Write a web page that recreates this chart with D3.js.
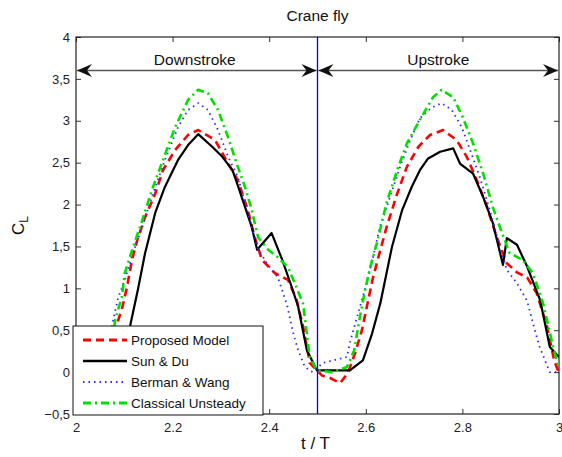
<!DOCTYPE html>
<html>
<head>
<meta charset="utf-8">
<script src="https://cdn.jsdelivr.net/npm/d3@7"></script>
<style>
  html, body { margin: 0; padding: 0; background: #fff; }
  svg { display: block; font-family: "Liberation Sans", Arial, sans-serif; }
</style>
</head>
<body>
<svg id="chart" width="562" height="457"></svg>
<script>
// Lift coefficient over one wingbeat (crane fly)
const xTicks = [2, 2.2, 2.4, 2.6, 2.8, 3];
const yTicks = [-0.5, 0, 0.5, 1, 1.5, 2, 2.5, 3, 3.5, 4];

const proposedT = [2.0, 2.02, 2.047, 2.063, 2.078, 2.085, 2.095, 2.105, 2.116, 2.127, 2.143, 2.164, 2.18, 2.205, 2.232, 2.253, 2.288, 2.315, 2.335, 2.356, 2.37, 2.385, 2.412, 2.439, 2.457, 2.47, 2.484, 2.509, 2.526, 2.547, 2.563, 2.578, 2.592, 2.605, 2.615, 2.626, 2.643, 2.665, 2.685, 2.709, 2.733, 2.76, 2.788, 2.809, 2.83, 2.851, 2.871, 2.892, 2.913, 2.934, 2.954, 2.975, 2.99, 3.0];
const proposedCL = [0.0, -0.05, -0.13, -0.01, 0.23, 0.58, 0.75, 1.0, 1.34, 1.58, 1.85, 2.13, 2.41, 2.65, 2.83, 2.89, 2.77, 2.49, 2.29, 1.93, 1.61, 1.34, 1.18, 1.10, 0.86, 0.55, 0.11, -0.04, -0.07, -0.13, -0.01, 0.23, 0.5, 0.86, 1.13, 1.37, 1.73, 2.13, 2.45, 2.69, 2.83, 2.89, 2.77, 2.57, 2.29, 1.97, 1.61, 1.30, 1.19, 1.13, 0.94, 0.55, 0.14, -0.01];

const sunDuT = [2.0, 2.05, 2.07, 2.094, 2.112, 2.128, 2.143, 2.164, 2.184, 2.211, 2.232, 2.253, 2.282, 2.303, 2.324, 2.336, 2.35, 2.364, 2.375, 2.405, 2.427, 2.447, 2.46, 2.478, 2.499, 2.567, 2.594, 2.613, 2.63, 2.654, 2.675, 2.695, 2.712, 2.729, 2.754, 2.781, 2.795, 2.822, 2.843, 2.863, 2.884, 2.892, 2.913, 2.934, 2.961, 2.981, 3.0];
const sunDuCL = [0.1, 0.02, 0.02, 0.14, 0.55, 0.98, 1.42, 1.90, 2.21, 2.53, 2.71, 2.84, 2.69, 2.57, 2.41, 2.21, 1.97, 1.73, 1.46, 1.66, 1.34, 1.01, 0.78, 0.26, 0.02, 0.02, 0.14, 0.46, 0.82, 1.49, 1.93, 2.21, 2.41, 2.55, 2.63, 2.67, 2.49, 2.37, 2.09, 1.78, 1.28, 1.60, 1.52, 1.26, 0.86, 0.30, 0.18];

const bermanT = [2.0, 2.03, 2.06, 2.067, 2.077, 2.087, 2.101, 2.118, 2.137, 2.157, 2.184, 2.211, 2.232, 2.253, 2.273, 2.294, 2.315, 2.335, 2.356, 2.375, 2.395, 2.418, 2.437, 2.45, 2.46, 2.474, 2.49, 2.511, 2.532, 2.561, 2.567, 2.58, 2.602, 2.615, 2.629, 2.65, 2.671, 2.692, 2.712, 2.737, 2.757, 2.778, 2.799, 2.816, 2.836, 2.857, 2.878, 2.892, 2.913, 2.934, 2.95, 2.96, 2.971, 2.981, 3.0];
const bermanCL = [0.11, 0.14, 0.18, 0.35, 0.62, 0.88, 1.10, 1.42, 1.73, 2.09, 2.53, 2.92, 3.13, 3.21, 3.13, 2.89, 2.57, 2.33, 1.90, 1.49, 1.30, 1.13, 0.80, 0.46, 0.26, 0.06, 0.0, 0.11, 0.14, 0.18, 0.35, 0.62, 1.06, 1.37, 1.73, 2.09, 2.45, 2.77, 3.03, 3.16, 3.21, 3.13, 2.92, 2.65, 2.33, 1.93, 1.49, 1.22, 1.06, 0.85, 0.5, 0.30, 0.14, 0.0, 0.0];

const classicalT = [2.0, 2.03, 2.06, 2.074, 2.081, 2.095, 2.101, 2.118, 2.137, 2.157, 2.18, 2.205, 2.232, 2.253, 2.273, 2.294, 2.315, 2.335, 2.35, 2.364, 2.377, 2.398, 2.418, 2.439, 2.453, 2.47, 2.484, 2.499, 2.53, 2.561, 2.576, 2.586, 2.597, 2.609, 2.623, 2.643, 2.665, 2.685, 2.712, 2.739, 2.757, 2.781, 2.801, 2.822, 2.843, 2.863, 2.882, 2.898, 2.925, 2.946, 2.967, 2.988, 3.0];
const classicalCL = [0.05, 0.0, 0.06, 0.26, 0.62, 0.9, 1.18, 1.49, 1.81, 2.17, 2.53, 2.92, 3.25, 3.37, 3.33, 3.13, 2.80, 2.45, 2.21, 1.93, 1.61, 1.46, 1.37, 1.25, 1.06, 0.82, 0.18, 0.02, 0.0, 0.06, 0.26, 0.6, 0.94, 1.25, 1.54, 2.02, 2.41, 2.73, 3.01, 3.28, 3.37, 3.28, 3.04, 2.73, 2.37, 1.97, 1.66, 1.42, 1.34, 1.18, 0.82, 0.30, 0.05];

const seriesNames = ["Proposed Model", "Sun & Du", "Berman & Wang", "Classical Unsteady"];
const strokeSplit = 2.5;
const arrowLevel = 3.6;
const phaseLabels = ["Downstroke", "Upstroke"];

const series = [
  { name: seriesNames[0], t: proposedT, v: proposedCL, color: "#ff0000", width: 2.6, dash: "8,5" },
  { name: seriesNames[1], t: sunDuT, v: sunDuCL, color: "#000000", width: 2.2, dash: null },
  { name: seriesNames[2], t: bermanT, v: bermanCL, color: "#2a2aff", width: 1.8, dash: "1.5,4" },
  { name: seriesNames[3], t: classicalT, v: classicalCL, color: "#00e000", width: 2.6, dash: "8,4,2,4" }
];

const svg = d3.select("#chart");
const margin = { left: 76, right: 3, top: 37, bottom: 43 };
const W = 562, H = 457;
const x = d3.scaleLinear().domain([2, 3]).range([margin.left, W - margin.right]);
const y = d3.scaleLinear().domain([-0.5, 4]).range([H - margin.bottom, margin.top]);

const defs = svg.append("defs");
defs.append("clipPath").attr("id", "plotClip").append("rect")
  .attr("x", x(2)).attr("y", y(4)).attr("width", x(3) - x(2)).attr("height", y(-0.5) - y(4));
defs.append("marker").attr("id", "head")
  .attr("viewBox", "-16 -8 18 16").attr("refX", 0).attr("refY", 0)
  .attr("markerWidth", 18).attr("markerHeight", 16).attr("markerUnits", "userSpaceOnUse")
  .attr("orient", "auto-start-reverse")
  .append("path").attr("d", "M0,0 L-15,-6.5 L-10,0 L-15,6.5 Z").attr("fill", "#111");

// Axes: ticks inside, mirrored on all four sides
const tickColor = "#333";
const axBottom = svg.append("g").attr("transform", `translate(0,${y(-0.5)})`)
  .call(d3.axisBottom(x).tickValues(xTicks).tickSizeInner(-5).tickSizeOuter(0).tickPadding(9)
    .tickFormat(d => d3.format("~g")(d)));
const axTop = svg.append("g").attr("transform", `translate(0,${y(4)})`)
  .call(d3.axisTop(x).tickValues(xTicks).tickSizeInner(-5).tickSizeOuter(0).tickFormat(""));
const axLeft = svg.append("g").attr("transform", `translate(${x(2)},0)`)
  .call(d3.axisLeft(y).tickValues(yTicks).tickSizeInner(-5).tickSizeOuter(0).tickPadding(6)
    .tickFormat(d => d3.format("~g")(d).replace(".", ",")));
const axRight = svg.append("g").attr("transform", `translate(${x(3)},0)`)
  .call(d3.axisRight(y).tickValues(yTicks).tickSizeInner(-5).tickSizeOuter(0).tickFormat(""));
[axBottom, axTop, axLeft, axRight].forEach(g => {
  g.select(".domain").remove();
  g.selectAll(".tick line").attr("stroke", tickColor);
  g.selectAll(".tick text").attr("fill", "#222").attr("font-size", 13)
    .attr("font-family", "Liberation Sans, Arial, sans-serif");
});

// Frame
svg.append("rect").attr("x", x(2)).attr("y", y(4))
  .attr("width", x(3) - x(2)).attr("height", y(-0.5) - y(4))
  .attr("fill", "none").attr("stroke", "#222").attr("stroke-width", 1.2);

// Curves
const plot = svg.append("g").attr("clip-path", "url(#plotClip)");
const line = d3.line().x(d => x(d[0])).y(d => y(d[1]));
series.forEach(s => {
  plot.append("path")
    .datum(s.t.map((t, i) => [t, s.v[i]]))
    .attr("d", line)
    .attr("fill", "none")
    .attr("stroke", s.color)
    .attr("stroke-width", s.width)
    .attr("stroke-dasharray", s.dash)
    .attr("stroke-linejoin", "round");
});

// Stroke reversal marker
svg.append("line")
  .attr("x1", x(strokeSplit)).attr("x2", x(strokeSplit))
  .attr("y1", y(4)).attr("y2", y(-0.5))
  .attr("stroke", "#0000ff").attr("stroke-width", 1.3);

// Phase arrows
[[2, strokeSplit], [strokeSplit, 3]].forEach((span, i) => {
  svg.append("line")
    .attr("x1", x(span[0]) + 1).attr("x2", x(span[1]) - 1)
    .attr("y1", y(arrowLevel)).attr("y2", y(arrowLevel))
    .attr("stroke", "#555").attr("stroke-width", 1.4)
    .attr("marker-start", "url(#head)").attr("marker-end", "url(#head)");
  svg.append("text")
    .attr("x", x((span[0] + span[1]) / 2) + (i === 0 ? -2 : 0))
    .attr("y", y(arrowLevel) - 6)
    .attr("text-anchor", "middle").attr("font-size", 15.5).attr("fill", "#111")
    .text(phaseLabels[i]);
});

// Titles
svg.append("text").attr("x", x(2.5)).attr("y", 21).attr("text-anchor", "middle")
  .attr("font-size", 15.5).attr("fill", "#111").text("Crane fly");
svg.append("text").attr("x", x(2.5) - 2).attr("y", 449).attr("text-anchor", "middle")
  .attr("font-size", 17).attr("fill", "#111").text("t / T");
const yl = svg.append("text").attr("transform", `translate(24,${y(1.75)}) rotate(-90)`)
  .attr("text-anchor", "middle").attr("font-size", 17).attr("fill", "#111");
yl.append("tspan").text("C");
yl.append("tspan").attr("font-size", 12).attr("dy", 4).text("L");

// Legend
const lg = svg.append("g").attr("transform", "translate(73,326)");
lg.append("rect").attr("width", 190).attr("height", 89)
  .attr("fill", "#fff").attr("stroke", "#111").attr("stroke-width", 1);
series.forEach((s, i) => {
  const yy = 14 + i * 21;
  lg.append("line").attr("x1", 10).attr("x2", 54).attr("y1", yy).attr("y2", yy)
    .attr("stroke", s.color).attr("stroke-width", s.width + 0.4)
    .attr("stroke-dasharray", s.dash);
  lg.append("text").attr("x", 58).attr("y", yy + 5).attr("font-size", 13.5)
    .attr("fill", "#111").text(s.name);
});
</script>
</body>
</html>
